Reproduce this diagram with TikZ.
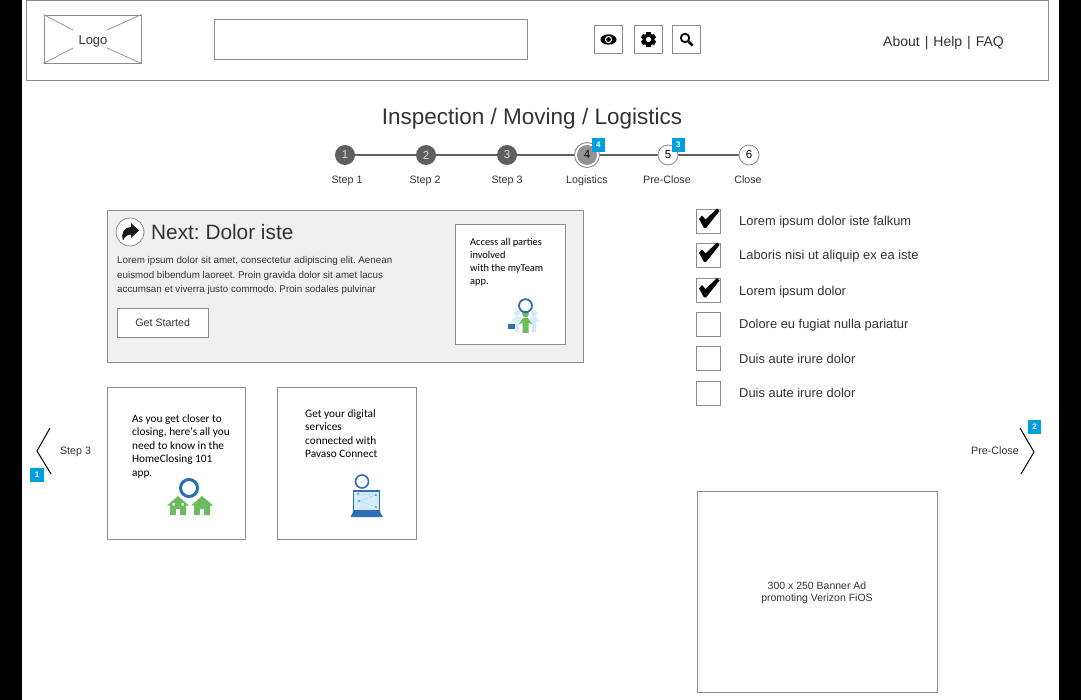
\documentclass[tikz,border=0pt]{standalone}
\usepackage{fontspec}
\usetikzlibrary{calc}
\setmainfont{Liberation Sans}
\newfontfamily\cardfont{Carlito}
\definecolor{wireline}{HTML}{8C8C8C}
\definecolor{wiretext}{HTML}{333333}
\definecolor{badgeblue}{HTML}{009FDF}
\definecolor{stepdark}{HTML}{5F5F5F}
\definecolor{ringblue}{HTML}{2F6DB5}
\definecolor{appgreen}{HTML}{6CBB5F}
\definecolor{palecyan}{HTML}{D4ECF9}
\newcommand{\fsize}[2]{\fontsize{#1}{#2}\selectfont}
\tikzset{
  wirebox/.style={draw=wireline, line width=0.9pt, fill=white, inner sep=0pt, rectangle},
  wirelabel/.style={text=wiretext, inner sep=0pt},
  badge/.style={fill=badgeblue, text=white, inner sep=0pt, minimum size=13.5pt, font=\bfseries\fsize{8}{8}},
  stepdot/.style={circle, inner sep=0pt, minimum size=20pt, font=\fsize{11.5}{12}},
  steplabel/.style={wirelabel, anchor=base, font=\fsize{10.7}{12}},
  cardtext/.style={inner sep=0pt, anchor=north west, align=left, text=black},
  checkbox/.style={wirebox, minimum width=23.5pt, minimum height=24pt},
  checktext/.style={wirelabel, anchor=base west, font=\fsize{12.9}{14}},
}
\begin{document}
\frenchspacing
\begin{tikzpicture}[x=1pt, y=-1pt]
    \useasboundingbox (0,0) rectangle (1081,700);
    \fill[black] (0,0) rectangle (1081,700);
    \fill[white] (22,0) rectangle (1059,700);

    \node[wirebox, minimum width=1022pt, minimum height=79.5pt] (header) at (537,40.5) {};
    \node[wirebox, minimum width=97pt, minimum height=48pt] (logo) at (92.5,39) {};
    \node[wirelabel, font=\fsize{13}{15}] (logotext) at (93,41) {Logo};
    \draw[wireline, line width=0.7pt] (logo.north west) -- (73,30) (logo.north east) -- (107,30)
      (logo.south west) -- (73,48) (logo.south east) -- (107,48);
    \node[wirebox, minimum width=313.5pt, minimum height=40pt] (searchbar) at (370.7,39) {};

    \foreach \name/\cx in {eyebtn/608.5, gearbtn/648.5, findbtn/686.5} {
      \node[wirebox, minimum width=28.5pt, minimum height=28pt] (\name) at (\cx,39.5) {};
    }
    \fill[black] (eyebtn.center) ellipse (8pt and 5.2pt);
    \fill[white] (eyebtn.center) circle (3.6pt);
    \fill[black] (eyebtn.center) circle (2.4pt);
    \foreach \a in {0,60,120} {
      \fill[black, rotate around={\a:(gearbtn.center)}] ($(gearbtn.center)+(-2.3,-7.6)$) rectangle ($(gearbtn.center)+(2.3,7.6)$);
    }
    \fill[black] (gearbtn.center) circle (6pt);
    \fill[white] (gearbtn.center) circle (2.6pt);
    \draw[black, line width=1.8pt] ($(findbtn.center)+(-1.5,-1.5)$) circle (4.2pt);
    \draw[black, line width=2.6pt] ($(findbtn.center)+(1.5,1.5)$) -- ($(findbtn.center)+(6,6)$);

    \node[wirelabel, font=\fsize{14}{16}] (toplinks) at (943.5,42.5) {About\hspace{5pt}|\hspace{5pt}Help\hspace{5pt}|\hspace{5pt}FAQ};
    \node[wirelabel, font=\fsize{22.5}{26}] (title) at (532,118.5) {Inspection / Moving / Logistics};

    \foreach \i/\cx in {1/345,2/426,3/507,4/587,5/668,6/749} {
      \coordinate (c\i) at (\cx,155);
    }
    \draw[stepdark, line width=1.3pt] (c1) -- (c2) -- (c3) -- (c4) -- (c5) -- (c6);
    \foreach \i in {1,2,3} {
      \node[stepdot, fill=stepdark, text=white!85!black] (s\i) at (c\i) {\i};
    }
    \node[circle, draw=wireline, line width=0.9pt, fill=white, minimum size=25pt, inner sep=0pt] (s4ring) at (c4) {};
    \node[stepdot, fill=gray!85, text=black] (s4) at (c4) {4};
    \foreach \i in {5,6} {
      \node[stepdot, draw=wireline, line width=0.8pt, fill=white, text=black] (s\i) at (c\i) {\i};
    }
    \foreach \txt/\cx [count=\i] in {Step 1/347, Step 2/425, Step 3/507, Logistics/587, Pre-Close/667, Close/748} {
      \node[steplabel] (t\i) at (\cx,183.5) {\txt};
    }
    \node[badge] (b4) at (598.3,145) {4};
    \node[badge] (b3) at (678.3,145) {3};

    \node[wirebox, fill=black!6, minimum width=476pt, minimum height=152pt] (panel) at (345.3,286) {};
    \node[circle, draw=wireline, line width=0.8pt, fill=white, minimum size=28pt, inner sep=0pt] (nexticon) at (130,232) {};
    \fill[black!90] (131,223) -- (139,230.5) -- (131,238) -- (131,234.5)
      .. controls (127.5,234.5) and (125,236.5) .. (123,240.5)
      .. controls (120.5,233) and (124,227.5) .. (131,227) -- cycle;
    \node[wirelabel, anchor=west, font=\fsize{20.8}{24}] (nexttitle) at (151,232.5) {Next: Dolor iste};
    \node[wirelabel, anchor=north west, align=left, font=\fsize{9.8}{14.5}] (nextbody) at (117,256.5)
      {Lorem ipsum dolor sit amet, consectetur adipiscing elit. Aenean\\
       euismod bibendum laoreet. Proin gravida dolor sit amet lacus\\
       accumsan et viverra justo commodo. Proin sodales pulvinar};
    \node[wirebox, minimum width=91pt, minimum height=29pt, text=wiretext, font=\fsize{10.7}{12}] (getstarted) at (162.7,322.5) {Get Started};

    \node[wirebox, minimum width=110pt, minimum height=120.5pt] (teamcard) at (510,284.5) {};
    \node[cardtext, font=\cardfont\fsize{10.4}{13}] (teamtext) at (470,238.5)
      {Access all parties\\involved\\with the myTeam\\app.};
    \foreach \cx in {517,534} {
      \fill[palecyan] (\cx,313) circle (3.2pt);
      \fill[palecyan] (\cx-6,322) -- (\cx-2,316.5) -- (\cx+2,316.5) -- (\cx+6,322) -- (\cx+2.5,321) -- (\cx+2,332) -- (\cx-2,332) -- (\cx-2.5,321) -- cycle;
    }
    \fill[appgreen] (525.5,314) circle (3.4pt);
    \fill[appgreen] (519,324) -- (523,318) -- (528,318) -- (532,324) -- (528.5,323) -- (528.5,333) -- (522.5,333) -- (522.5,323) -- cycle;
    \draw[ringblue, line width=1.8pt] (525.5,305.7) circle (6.5pt);
    \fill[ringblue] (508,324) rectangle (514.5,329);

    \node[wirebox, minimum width=138.5pt, minimum height=152pt] (homecard) at (176.4,463) {};
    \node[cardtext, font=\cardfont\fsize{11.3}{13.4}] (hometext) at (132,414.5)
      {As you get closer to\\closing, here's all you\\need to know in the\\HomeClosing 101\\app.};
    \foreach \cx in {178,202} {
      \fill[appgreen] (\cx-11,505.5) -- (\cx,496) -- (\cx+11,505.5) -- (\cx+8,505.5) -- (\cx+8,515) -- (\cx-8,515) -- (\cx-8,505.5) -- cycle;
      \fill[white] (\cx-2,509) rectangle (\cx+2,515);
    }
    \fill[white] (172.5,503) rectangle (174.5,505.5) (181.5,503) rectangle (183.5,505.5);
    \draw[ringblue, line width=3pt] (189,488) circle (8.5pt);

    \node[wirebox, minimum width=138.7pt, minimum height=152pt] (connectcard) at (346.7,463) {};
    \node[cardtext, font=\cardfont\fsize{11.3}{13.4}] (connecttext) at (305,409.5)
      {Get your digital\\services\\connected with\\Pavaso Connect};
    \draw[ringblue, line width=1.6pt] (362,481.5) circle (6.5pt);
    \draw[ringblue, fill=palecyan, line width=1.4pt] (353.5,491) rectangle (379.5,511);
    \fill[ringblue] (353.5,511) -- (379.5,511) -- (383,517) -- (350.5,517) -- cycle;
    \draw[ringblue!70, line width=0.4pt, densely dotted] (358,494) -- (376,495) -- (359,501) -- (376,507);
    \foreach \dx/\dy in {358/494, 376/495, 359/501, 376/507} {
      \fill[ringblue] (\dx,\dy) circle (0.9pt);
    }

    \foreach \cy/\txt/\ty [count=\i] in {221/Lorem ipsum dolor iste falkum/226, 255/Laboris nisi ut aliquip ex ea iste/260,
        290.5/Lorem ipsum dolor/296, 324/Dolore eu fugiat nulla pariatur/328.5, 358/Duis aute irure dolor/363, 393/Duis aute irure dolor/397} {
      \node[checkbox] (box\i) at (708.5,\cy) {};
      \node[checktext] (item\i) at (739,\ty) {\txt};
    }
    \foreach \i in {1,2,3} {
      \fill[black] ($(box\i.center)+(-9.5,-2)$) -- ($(box\i.center)+(-6.5,-5.5)$) -- ($(box\i.center)+(-3,-1.5)$)
        -- ($(box\i.center)+(8.5,-12.5)$) -- ($(box\i.center)+(11,-10)$) -- ($(box\i.center)+(-2.5,7)$) -- ($(box\i.center)+(-4.5,7)$) -- cycle;
    }

    \coordinate (prevtop) at (50,428);
    \coordinate (prevtip) at (37,451);
    \coordinate (prevbot) at (51,474);
    \draw[black, line width=1pt] (prevtop) -- (prevtip) -- (prevbot);
    \node[steplabel] (prevlabel) at (75.5,454.5) {Step 3};
    \node[badge] (b1) at (37,475) {1};

    \coordinate (nexttop) at (1020,428);
    \coordinate (nexttip) at (1034,452);
    \coordinate (nextbot) at (1021,474);
    \draw[black, line width=1pt] (nexttop) -- (nexttip) -- (nextbot);
    \node[steplabel] (nextlabel) at (995,454.5) {Pre-Close};
    \node[badge] (b2) at (1034.5,427) {2};

    \node[wirebox, minimum width=240.5pt, minimum height=200.5pt] (banner) at (817.3,592) {};
    \node[wirelabel, align=center, font=\fsize{10.5}{12}] (bannertext) at (817,592.5)
      {300 x 250 Banner Ad\\promoting Verizon FiOS};
  \end{tikzpicture}
\end{document}
